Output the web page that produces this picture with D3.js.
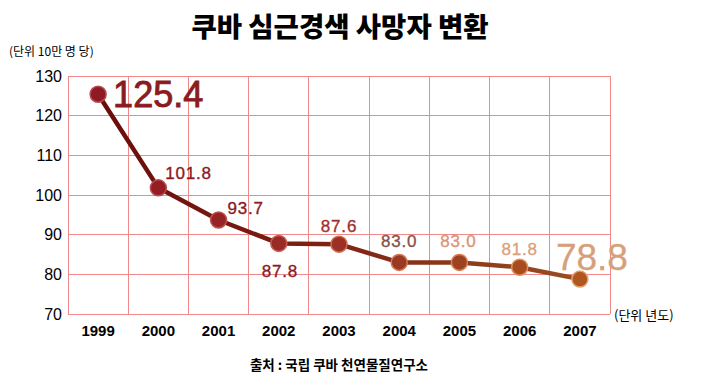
<!DOCTYPE html>
<html><head><meta charset="utf-8">
<script src="https://cdn.jsdelivr.net/npm/d3@7"></script>
<style>body{margin:0;background:#fff;} svg{display:block;}</style>
</head><body>
<svg id="c" width="709" height="391"></svg>
<script>
const years = ["1999","2000","2001","2002","2003","2004","2005","2006","2007"];
const values = [125.4, 101.8, 93.7, 87.8, 87.6, 83.0, 83.0, 81.8, 78.8];
const yTicks = [70, 80, 90, 100, 110, 120, 130];
const titleText = "쿠바 심근경색 사망자 변환";
const yUnit = "(단위 10만 명 당)";
const xUnit = "(단위 년도)";
const sourceText = "출처 : 국립 쿠바 천연물질연구소";

// styling (not data)
const labelColors = ["#8b1a22","#8b1a22","#8b1a22","#8b1a22","#a3302a","#8b5245","#d9957a","#dca07c","#d6a07a"];
const pointFill = ["#8e1b24","#931f24","#962325","#9a2a25","#9c3024","#9b3a22","#9c4220","#a84c1f","#b0561f"];
const pointStroke = ["#b54a50","#b84e50","#bb5450","#c66050","#cc6a50","#d47a58","#d9805a","#dc9060","#e0a070"];
// label placement: [dx, dy, anchor, size]
const labelPlace = [[15,13,"start",36],[7,-9,"start",17],[9,-6,"start",17],[-17,34,"start",17],[0,-12,"middle",17],[0,-15,"middle",17],[-1,-15,"middle",17],[0,-12,"middle",17],[12,-9,"middle",37]];

const svg = d3.select("#c");
const m = {l:68, r:610, t:76, b:314};
const x = d3.scaleBand().domain(years).range([m.l, m.r]);
const y = d3.scaleLinear().domain([70,130]).range([m.b, m.t]);
const cx = d => x(d) + x.bandwidth()/2;

svg.append("text").attr("x",340).attr("y",37).attr("text-anchor","middle")
  .attr("font-family","'Noto Sans CJK KR'").attr("font-weight","900").attr("font-size",27.5)
  .attr("fill","#000").text(titleText);
svg.append("text").attr("x",9).attr("y",56)
  .attr("font-family","'Noto Sans CJK KR'").attr("font-size",12).attr("fill","#000").text(yUnit);
svg.append("text").attr("x",614).attr("y",320)
  .attr("font-family","'Noto Sans CJK KR'").attr("font-size",13).attr("fill","#000").text(xUnit);
svg.append("text").attr("x",339).attr("y",370).attr("text-anchor","middle")
  .attr("font-family","'Noto Sans CJK KR'").attr("font-weight","bold").attr("font-size",13.5).attr("fill","#000").text(sourceText);

// grid
const g = svg.append("g");
g.selectAll("line.h").data(yTicks).join("line")
  .attr("x1",m.l).attr("x2",m.r).attr("y1",d=>y(d)).attr("y2",d=>y(d))
  .attr("stroke","#f08a8a").attr("stroke-width",1).attr("shape-rendering","crispEdges");
const vx = years.map(d=>x(d)).concat([m.r]);
g.selectAll("line.v").data(vx).join("line")
  .attr("x1",d=>d).attr("x2",d=>d).attr("y1",m.t).attr("y2",m.b)
  .attr("stroke","#f08a8a").attr("stroke-width",1).attr("shape-rendering","crispEdges");

// y axis
const ya = svg.append("g").attr("transform",`translate(${m.l-6},0)`)
  .call(d3.axisLeft(y).tickValues(yTicks).tickSize(0).tickPadding(0));
ya.select(".domain").remove();
ya.selectAll("text").attr("font-family","'Liberation Sans',Arial").attr("font-size",16).attr("fill","#000");

// x axis
const xa = svg.append("g").attr("transform",`translate(0,${m.b+7})`)
  .call(d3.axisBottom(x).tickSize(0).tickPadding(0));
xa.select(".domain").remove();
xa.selectAll("text").attr("font-family","'Liberation Sans',Arial").attr("font-weight","bold")
  .attr("font-size",15).attr("fill","#000").attr("dy","1em");

// line gradient
const defs = svg.append("defs");
const grad = defs.append("linearGradient").attr("id","lg").attr("gradientUnits","userSpaceOnUse")
  .attr("x1",cx(years[0])).attr("x2",cx(years[years.length-1])).attr("y1",0).attr("y2",0);
grad.append("stop").attr("offset","0%").attr("stop-color","#6a0c0c");
grad.append("stop").attr("offset","50%").attr("stop-color","#7e2414");
grad.append("stop").attr("offset","100%").attr("stop-color","#9a4e20");

const line = d3.line().x((d,i)=>cx(years[i])).y(d=>y(d));
svg.append("path").datum(values).attr("d",line).attr("fill","none")
  .attr("stroke","url(#lg)").attr("stroke-width",4.5).attr("stroke-linejoin","round");

svg.selectAll("circle.p").data(values).join("circle")
  .attr("cx",(d,i)=>cx(years[i])).attr("cy",d=>y(d)).attr("r",8)
  .attr("fill",(d,i)=>pointFill[i]).attr("stroke",(d,i)=>pointStroke[i]).attr("stroke-width",1.5);

svg.selectAll("text.lbl").data(values).join("text")
  .attr("x",(d,i)=>cx(years[i])+labelPlace[i][0])
  .attr("y",(d,i)=>y(d)+labelPlace[i][1])
  .attr("text-anchor",(d,i)=>labelPlace[i][2])
  .attr("font-size",(d,i)=>labelPlace[i][3])
  .attr("letter-spacing",(d,i)=>labelPlace[i][3] > 20 ? 0 : 0.8)
  .attr("font-family","'Liberation Sans',Arial")
  .attr("fill",(d,i)=>labelColors[i])
  .attr("stroke",(d,i)=>labelColors[i])
  .attr("stroke-width",(d,i)=>labelPlace[i][3] > 20 ? (i===0 ? 0.9 : 0.3) : 0.35)
  .text(d=>d.toFixed(1));
</script>
</body></html>
